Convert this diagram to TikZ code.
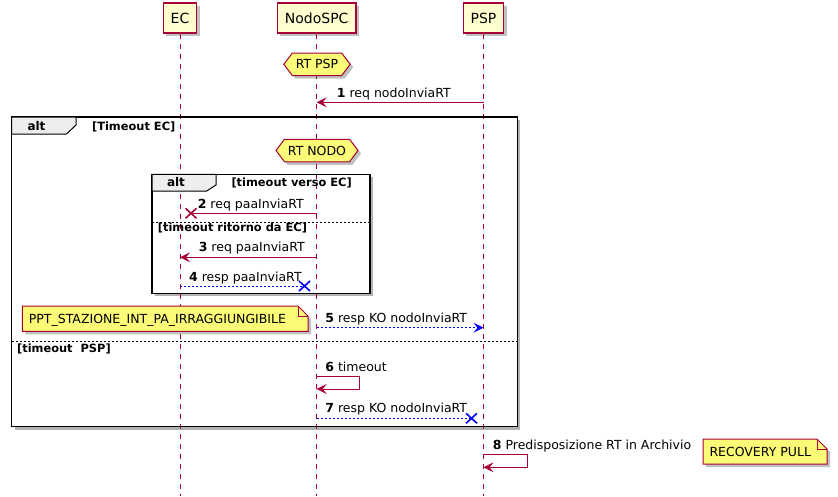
\documentclass[tikz,border=0pt]{standalone}
\usepackage{fontspec}
\setmainfont{DejaVu Sans}
\usetikzlibrary{arrows.meta,shapes.symbols,shadows,calc}
\definecolor{pu}{HTML}{A80036}
\definecolor{pfill}{HTML}{FEFECE}
\definecolor{nfill}{HTML}{FBFB77}
\definecolor{tabfill}{HTML}{EEEEEE}
\tikzset{
  shd/.style={drop shadow={shadow xshift=3pt,shadow yshift=-3pt,opacity=0.35,fill=black!70}},
  part/.style={draw=pu,fill=pfill,line width=1.2pt,minimum height=30pt,inner xsep=7.5pt,font=\fontsize{14}{16}\selectfont,shd},
  lifeline/.style={draw=pu,line width=0.9pt,dash pattern=on 5pt off 5pt},
  hexa/.style={signal,signal to=west and east,signal pointer angle=106,draw=pu,fill=nfill,line width=1pt,minimum height=22.5pt,inner xsep=3.5pt,inner ysep=2pt,font=\fontsize{12.5}{14}\selectfont,shd},
  lbl/.style={anchor=base west,inner sep=0pt,font=\fontsize{12.5}{14}\selectfont},
  glbl/.style={anchor=base west,inner sep=0pt,font=\bfseries\fontsize{11.4}{13}\selectfont},
  altlbl/.style={anchor=base,inner sep=0pt,font=\bfseries\fontsize{12}{13}\selectfont},
  req/.style={draw=pu,line width=1pt},
  reqarrow/.style={req,-{Stealth[length=10pt,width=10pt,inset=4pt]}},
  resp/.style={draw=blue,line width=1pt,dash pattern=on 2pt off 2pt},
  resparrow/.style={resp,-{Stealth[length=10pt,width=10pt,inset=4pt]}},
  framebox/.style={draw=black,line width=1.5pt},
  frameshadow/.style={fill=black,opacity=0.3},
  sep/.style={draw=black,line width=0.8pt,dash pattern=on 2pt off 2pt},
  tab/.style={draw=black,fill=tabfill,line width=1pt},
  notebox/.style={draw=pu,fill=nfill,line width=1pt},
  notetext/.style={anchor=base west,inner sep=0pt,font=\fontsize{12.5}{14}\selectfont},
  pics/xcross/.style={code={\draw[line width=1.6pt] (-5.5,-5) -- (5.5,5) (-5.5,5) -- (5.5,-5);}},
}
\begin{document}
\begin{tikzpicture}[x=1pt,y=-1pt]
\useasboundingbox (0,0) rectangle (838,496);
% frame backgrounds and shadows
\fill[frameshadow] (14.7,120) rectangle (520.3,429.5);
\fill[white] (11.7,117) rectangle (517.3,426.5);
\fill[frameshadow] (155,177.3) rectangle (373,296.3);
\fill[white] (152,174.3) rectangle (370,293.3);
% participants
\node[part] (ec) at (180,18) {EC};
\node[part] (nodo) at (316.7,18) {NodoSPC};
\node[part] (psp) at (483.5,18) {PSP};
% lifelines
\coordinate (ecend) at (ec.south |- 0,496);
\coordinate (nodoend) at (nodo.south |- 0,496);
\coordinate (pspend) at (psp.south |- 0,496);
\draw[lifeline] (ec.south) -- (ecend);
\draw[lifeline] (nodo.south) -- (nodoend);
\draw[lifeline] (psp.south) -- (pspend);
% frame borders
\draw[framebox] (11.7,117) rectangle (517.3,426.5);
\draw[tab] (11.7,117) -- (76,117) -- (76,125) -- (66.5,134) -- (11.7,134) -- cycle;
\node[altlbl] (alt1) at (36.5,130) {alt};
\node[glbl] (g1) at (91.9,130) {[Timeout EC]};
\draw[sep] (11.7,341.7) -- (517.3,341.7);
\node[glbl] (g3) at (16.9,352.3) {[timeout\ \ PSP]};
\draw[framebox] (152,174.3) rectangle (370,293.3);
\draw[tab] (152,174.3) -- (216,174.3) -- (216,185) -- (206.7,191) -- (152,191) -- cycle;
\node[altlbl] (alt2) at (176,186.7) {alt};
\node[glbl] (g2) at (231.3,186.7) {[timeout verso EC]};
\draw[sep] (152,222) -- (370,222);
\node[glbl] (g2b) at (157.7,231.7) {[timeout ritorno da EC]};
% hexagons
\node[hexa] (h1) at (317,64.3) {RT PSP};
\node[hexa] (h2) at (317,150.5) {RT NODO};
% message 1
\draw[reqarrow] (psp.south |- 0,102.3) -- (nodo.south |- 0,102.3);
\node[lbl] (l1) at (336.7,97.5) {\textbf{1} req nodoInviaRT};
% message 2
\coordinate (x2) at (191,213.3);
\draw[req] (nodo.south |- x2) -- (x2);
\pic[color=pu] at (x2) {xcross};
\node[lbl] (l2) at (197.6,208.5) {\textbf{2} req paaInviaRT};
% message 3
\draw[reqarrow] (nodo.south |- 0,257.3) -- (ec.south |- 0,257.3);
\node[lbl] (l3) at (198.6,251.8) {\textbf{3} req paaInviaRT};
% message 4
\coordinate (x4) at (304.5,286);
\draw[resp] (ec.south |- x4) -- (x4);
\pic[color=blue] at (x4) {xcross};
\node[lbl] (l4) at (189,281.2) {\textbf{4} resp paaInviaRT};
% note 1
\draw[notebox,shd] (22.3,306) -- (298,306) -- (308,316) -- (308,331.3) -- (22.3,331.3) -- cycle;
\draw[pu,line width=1pt] (298,306) -- (298,316) -- (308,316);
\node[notetext] (n1) at (28.7,323.3) {PPT\_STAZIONE\_INT\_PA\_IRRAGGIUNGIBILE};
% message 5
\draw[resparrow] (nodo.south |- 0,327.7) -- (psp.south |- 0,327.7);
\node[lbl] (l5) at (325.2,322.2) {\textbf{5} resp KO nodoInviaRT};
% message 6
\coordinate (s6) at (359,376);
\draw[reqarrow] (nodo.south |- s6) -- (s6) -- (359,389) -- (nodo.south |- 0,389);
\node[lbl] (l6) at (325.2,371.2) {\textbf{6} timeout};
% message 7
\coordinate (x7) at (471.5,418.3);
\draw[resp] (nodo.south |- x7) -- (x7);
\pic[color=blue] at (x7) {xcross};
\node[lbl] (l7) at (325.2,412.8) {\textbf{7} resp KO nodoInviaRT};
% message 8
\coordinate (s8) at (527,454.3);
\draw[reqarrow] (psp.south |- s8) -- (s8) -- (527,467.3) -- (psp.south |- 0,467.3);
\node[lbl] (l8) at (492.7,449.5) {\textbf{8} Predisposizione RT in Archivio};
% note 2
\draw[notebox,shd] (703,439) -- (817,439) -- (827,449) -- (827,464) -- (703,464) -- cycle;
\draw[pu,line width=1pt] (817,439) -- (817,449) -- (827,449);
\node[notetext] (n2) at (709.3,456.9) {RECOVERY PULL};
\end{tikzpicture}
\end{document}
